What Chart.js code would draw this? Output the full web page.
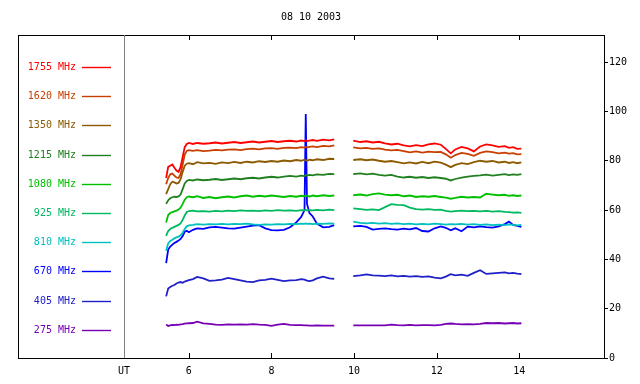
<!DOCTYPE html>
<html>
<head>
<meta charset="utf-8">
<script src="https://cdn.jsdelivr.net/npm/chart.js@4.4.1/dist/chart.umd.min.js"></script>
<style>
  html, body { margin: 0; padding: 0; background: #fff; }
  #wrap { width: 640px; height: 384px; }
</style>
</head>
<body>
<div id="wrap"><canvas id="radio"></canvas></div>
<script>
// hours UT (null value at 9.75 = data gap)
var times = [5.45, 5.5, 5.55, 5.6, 5.65, 5.7, 5.75, 5.8, 5.85, 5.9, 5.95, 6.0,
  6.1, 6.2, 6.35, 6.5, 6.65, 6.8, 6.95, 7.1, 7.25, 7.4, 7.55, 7.7, 7.85, 8.0,
  8.15, 8.3, 8.45, 8.6, 8.72, 8.8, 8.83, 8.86, 8.92, 9.0, 9.1, 9.25, 9.4, 9.52,
  9.75,
  9.98, 10.15, 10.3, 10.45, 10.6, 10.75, 10.9, 11.05, 11.2, 11.35, 11.5, 11.65,
  11.8, 11.95, 12.1, 12.22, 12.34, 12.45, 12.6, 12.75, 12.9, 13.05, 13.2, 13.35,
  13.5, 13.65, 13.75, 13.85, 13.95, 14.05];

var f1755 = [73, 77.5, 78, 78.5, 77.2, 76, 75.5, 77.5, 81.5, 85.5, 86.8, 87.2,
  86.8, 87.2, 86.9, 87.1, 87.4, 87.0, 87.3, 87.6, 87.2, 87.5, 87.8, 87.4, 87.7, 88.0,
  87.6, 87.9, 88.1, 87.8, 88.2, 88.0, 88.3, 88.0, 88.2, 88.4, 88.1, 88.6, 88.3, 88.7,
  null,
  88.2, 87.6, 87.9, 87.4, 87.7, 87.0, 86.6, 86.9, 86.2, 85.8, 86.3, 85.9,
  86.6, 87.0, 86.5, 84.8, 83.0, 84.6, 85.6, 85.0, 83.8, 85.8, 86.6, 86.2,
  85.6, 85.9, 85.2, 85.5, 84.8, 84.9];
var f1620 = [70.5, 73, 74.5, 74.8, 74, 73.2, 73, 74.5, 78.5, 82.5, 84, 84.3,
  84.0, 84.3, 83.9, 84.1, 84.4, 84.2, 84.5, 84.6, 84.3, 84.7, 84.9, 84.6, 85.0, 85.1,
  84.8, 85.2, 85.3, 85.1, 85.5, 85.3, 85.6, 85.4, 85.6, 85.8, 85.5, 86.0, 85.8, 86.2,
  null,
  85.4, 85.0, 85.2, 84.8, 85.0, 84.5, 84.2, 84.4, 83.9, 83.4, 83.8, 83.3,
  83.7, 83.5, 83.6, 82.6, 81.2, 82.3, 83.2, 82.8, 82.0, 83.2, 83.8, 83.5,
  83.0, 83.3, 82.9, 83.1, 82.6, 82.7];
var f1350 = [66.5, 68.5, 70.5, 71.5, 71.2, 70.8, 71, 72.5, 75.5, 78, 78.8, 79,
  78.6, 79.4, 78.9, 79.1, 78.7, 79.3, 79.0, 79.5, 79.1, 79.6, 79.3, 79.8, 79.5, 79.9,
  79.6, 80.1, 79.8, 80.3, 80.0, 80.4, 80.2, 80.0, 80.4, 80.2, 80.6, 80.3, 80.8, 80.7,
  null,
  80.3, 80.6, 80.2, 80.5, 80.0, 79.6, 79.9, 79.4, 78.9, 79.3, 78.9, 79.5,
  79.0, 79.6, 79.2, 78.4, 77.4, 78.3, 79.0, 78.6, 79.4, 80.0, 79.6, 79.9,
  79.3, 79.6, 79.1, 79.4, 79.0, 79.3];
var f1215 = [62.5, 64, 64.8, 65.2, 65.4, 65.3, 65.5, 66.3, 68.5, 70.8, 71.8, 72.2,
  72.0, 72.4, 72.1, 72.3, 72.6, 72.2, 72.5, 72.8, 72.5, 72.9, 73.1, 72.8, 73.2, 73.5,
  73.2, 73.6, 73.9, 73.6, 74.0, 73.8, 74.2, 74.0, 74.3, 74.1, 74.5, 74.3, 74.7, 74.6,
  null,
  74.6, 74.9, 74.5, 74.8, 74.3, 74.0, 74.3, 73.6, 73.2, 73.5, 73.1, 73.4,
  73.0, 73.3, 73.0, 72.7, 72.0, 72.6, 73.2, 73.6, 73.9, 74.1, 74.4, 74.0,
  74.3, 74.6, 74.2, 74.5, 74.3, 74.6];
var f1080 = [55, 58, 58.8, 59.2, 59.5, 59.8, 60.2, 61, 62.5, 64.2, 65.2, 65.5,
  65.2, 65.6, 64.9, 65.3, 64.8, 65.2, 65.5, 65.1, 65.6, 65.9, 65.4, 65.8, 65.5, 65.9,
  65.6, 65.3, 65.7, 65.4, 65.8, 65.6, 66.0, 65.7, 65.5, 65.9, 65.6, 66.0, 65.7, 65.9,
  null,
  66.0, 66.3, 65.9, 66.5, 66.8, 66.3, 66.0, 66.2, 65.6, 65.9, 65.3, 65.6,
  65.4, 65.7, 65.3, 65.0, 64.6, 64.9, 65.4, 65.1, 65.3, 65.1, 66.6, 66.3,
  66.0, 66.2, 65.8, 66.0, 65.7, 65.9];
var f925 = [49.5, 51.5, 52.3, 52.8, 53.2, 53.6, 54.0, 54.6, 56.0, 57.8, 59.2, 59.6,
  59.8, 59.5, 59.6, 59.4, 59.7, 59.5, 59.8, 59.6, 59.9, 59.7, 59.8, 59.6, 59.9, 59.7,
  60.0, 59.8, 59.9, 59.7, 60.0, 59.9, 60.1, 59.8, 60.0, 59.9, 60.1, 59.9, 60.2, 60.0,
  null,
  60.7, 60.4, 60.1, 60.3, 60.0, 61.2, 62.4, 62.1, 62.0, 61.0, 60.4, 60.2,
  60.4, 60.1, 60.2, 59.7, 59.4, 59.6, 59.8, 59.6, 59.7, 59.5, 59.7, 59.4,
  59.6, 59.3, 59.2, 59.0, 59.1, 58.9];
var f810 = [43.5, 46.5, 47.5, 48.0, 48.5, 48.9, 49.2, 49.8, 50.8, 52.3, 53.4, 53.8,
  54.0, 54.3, 54.1, 54.3, 54.2, 54.4, 54.2, 54.4, 54.3, 54.5, 54.2, 54.0, 54.2, 54.1,
  54.3, 54.2, 54.4, 54.3, 54.5, 54.4, 54.6, 54.4, 54.5, 54.3, 54.5, 54.4, 54.6, 54.5,
  null,
  55.3, 54.8, 54.6, 54.8, 54.5, 54.7, 54.4, 54.6, 54.3, 54.5, 54.2, 54.4,
  54.2, 54.5, 54.3, 54.1, 54.3, 54.2, 54.4, 54.1, 54.3, 54.0, 54.2, 53.9,
  54.1, 53.9, 54.2, 54.0, 53.8, 54.0];
var f670 = [38.5, 44, 45.2, 46, 46.6, 47.1, 47.6, 48.3, 49.5, 51.2, 51.6, 51.0,
  52.0, 52.6, 52.4, 53.0, 53.2, 52.9, 52.6, 52.5, 52.9, 53.3, 53.7, 53.9, 52.6, 51.9,
  51.8, 52.0, 53.0, 55.0, 57.2, 60.0, 99, 62.5, 58.8, 57.4, 54.5, 53.0, 53.2, 53.9,
  null,
  53.4, 53.6, 53.2, 52.1, 52.4, 52.6, 52.3, 52.1, 52.5, 52.2, 52.7, 51.5,
  51.3, 52.6, 53.4, 52.8, 51.8, 52.6, 51.4, 53.3, 53.0, 53.4, 53.1, 52.9,
  53.4, 54.3, 55.3, 54.0, 53.6, 53.2];
var f405 = [25.0, 28.2, 28.8, 29.3, 29.6, 30.2, 30.6, 30.8, 30.5, 31.0, 31.3, 31.6,
  32.0, 32.9, 32.3, 31.3, 31.5, 31.8, 32.5, 32.0, 31.5, 31.0, 30.8, 31.5, 31.7, 32.2,
  31.7, 31.2, 31.5, 31.6, 32.0, 31.8, 31.6, 31.4, 31.2, 31.5, 32.3, 33.0, 32.3, 32.1,
  null,
  33.2, 33.5, 33.9, 33.5, 33.4, 33.2, 33.5, 33.1, 33.3, 33.0, 33.2, 32.9,
  33.1, 32.6, 32.3, 33.0, 34.0, 33.5, 33.8, 33.3, 34.5, 35.6, 34.1, 34.3,
  34.5, 34.7, 34.3, 34.5, 34.2, 34.0];
var f275 = [13.6, 13.0, 13.2, 13.4, 13.3, 13.5, 13.4, 13.6, 13.7, 13.9, 14.0, 14.1,
  14.2, 14.7, 14.0, 13.8, 13.5, 13.4, 13.6, 13.5, 13.6, 13.5, 13.7, 13.5, 13.4, 13.0,
  13.5, 13.8, 13.4, 13.3, 13.3, 13.2, 13.2, 13.2, 13.1, 13.1, 13.2, 13.1, 13.1, 13.1,
  null,
  13.2, 13.2, 13.2, 13.2, 13.2, 13.2, 13.5, 13.3, 13.2, 13.4, 13.2, 13.3,
  13.3, 13.2, 13.4, 13.8, 14.0, 13.8, 13.6, 13.7, 13.6, 13.8, 14.2, 14.1,
  14.2, 14.0, 14.1, 14.2, 14.0, 14.1];

var labels = ['1755 MHz', '1620 MHz', '1350 MHz', '1215 MHz', '1080 MHz',
              '925 MHz', '810 MHz', '670 MHz', '405 MHz', '275 MHz'];
var colors = ['#ff0000', '#c84000', '#8c5a00', '#208020', '#00c000',
              '#00b860', '#00c0c0', '#0000ff', '#2020c8', '#7800b4'];
var values = [f1755, f1620, f1350, f1215, f1080, f925, f810, f670, f405, f275];

var xTicks = [6, 8, 10, 12, 14];
var yTicks = [0, 20, 40, 60, 80, 100, 120];
var xMin = 4.43, xMax = 16.05;

var FONT = '"DejaVu Sans Mono", monospace';

var datasets = values.map(function (vals, i) {
  return {
    label: labels[i],
    data: vals.map(function (v, k) { return { x: times[k], y: v }; }),
    borderColor: colors[i],
    backgroundColor: colors[i],
    borderWidth: 1.8,
    pointRadius: 0,
    tension: 0,
    spanGaps: false
  };
});

// frame, separator, inner x ticks, title and legend
var decor = {
  id: 'decor',
  afterDraw: function (chart) {
    var ctx = chart.ctx, a = chart.chartArea, xs = chart.scales.x;
    ctx.save();
    ctx.strokeStyle = '#000';
    ctx.lineWidth = 1;
    ctx.strokeRect(18.5, a.top + 0.5, a.right - 18, a.bottom - a.top);
    ctx.strokeStyle = '#808080';
    ctx.beginPath();
    ctx.moveTo(a.left + 0.5, a.top);
    ctx.lineTo(a.left + 0.5, a.bottom);
    ctx.stroke();
    ctx.strokeStyle = '#000';
    ctx.beginPath();
    xTicks.forEach(function (t) {
      var px = Math.round(xs.getPixelForValue(t)) + 0.5;
      ctx.moveTo(px, a.bottom);
      ctx.lineTo(px, a.bottom - 5);
      ctx.moveTo(px, a.top);
      ctx.lineTo(px, a.top + 5);
    });
    ctx.stroke();

    ctx.font = '10px ' + FONT;
    ctx.fillStyle = '#000';
    ctx.textAlign = 'center';
    ctx.textBaseline = 'middle';
    ctx.fillText('08 10 2003', 311, 17);

    ctx.textAlign = 'right';
    chart.data.datasets.forEach(function (ds, i) {
      var y = Math.round(67 + i * 29.2) + 0.5;
      ctx.fillStyle = ds.borderColor;
      ctx.fillText(ds.label, 76, y);
      ctx.strokeStyle = ds.borderColor;
      ctx.lineWidth = 1.4;
      ctx.beginPath();
      ctx.moveTo(82, y);
      ctx.lineTo(111, y);
      ctx.stroke();
    });
    ctx.restore();
  }
};

new Chart(document.getElementById('radio'), {
  type: 'line',
  data: { datasets: datasets },
  plugins: [decor],
  options: {
    responsive: true,
    maintainAspectRatio: false,
    animation: false,
    layout: { padding: { left: 124, top: 35, right: 0, bottom: 0 } },
    plugins: {
      legend: { display: false },
      title: { display: false },
      tooltip: { enabled: false }
    },
    scales: {
      x: {
        type: 'linear',
        min: xMin,
        max: xMax,
        afterBuildTicks: function (axis) {
          axis.ticks = [xMin].concat(xTicks).map(function (v) { return { value: v }; });
        },
        afterFit: function (axis) { axis.height = 26; },
        grid: { display: false, drawTicks: false },
        border: { display: false },
        ticks: {
          autoSkip: false,
          maxRotation: 0,
          padding: 7,
          color: '#000',
          font: { family: FONT, size: 10 },
          callback: function (v) { return v === xMin ? 'UT' : v; }
        }
      },
      y: {
        position: 'right',
        min: 0,
        max: 131,
        afterBuildTicks: function (axis) {
          axis.ticks = yTicks.map(function (v) { return { value: v }; });
        },
        afterFit: function (axis) { axis.width = 36; },
        grid: { drawOnChartArea: false, drawTicks: true, tickLength: 4, color: '#000' },
        border: { display: false },
        ticks: {
          padding: 1,
          color: '#000',
          font: { family: FONT, size: 10 }
        }
      }
    }
  }
});
</script>
</body>
</html>
